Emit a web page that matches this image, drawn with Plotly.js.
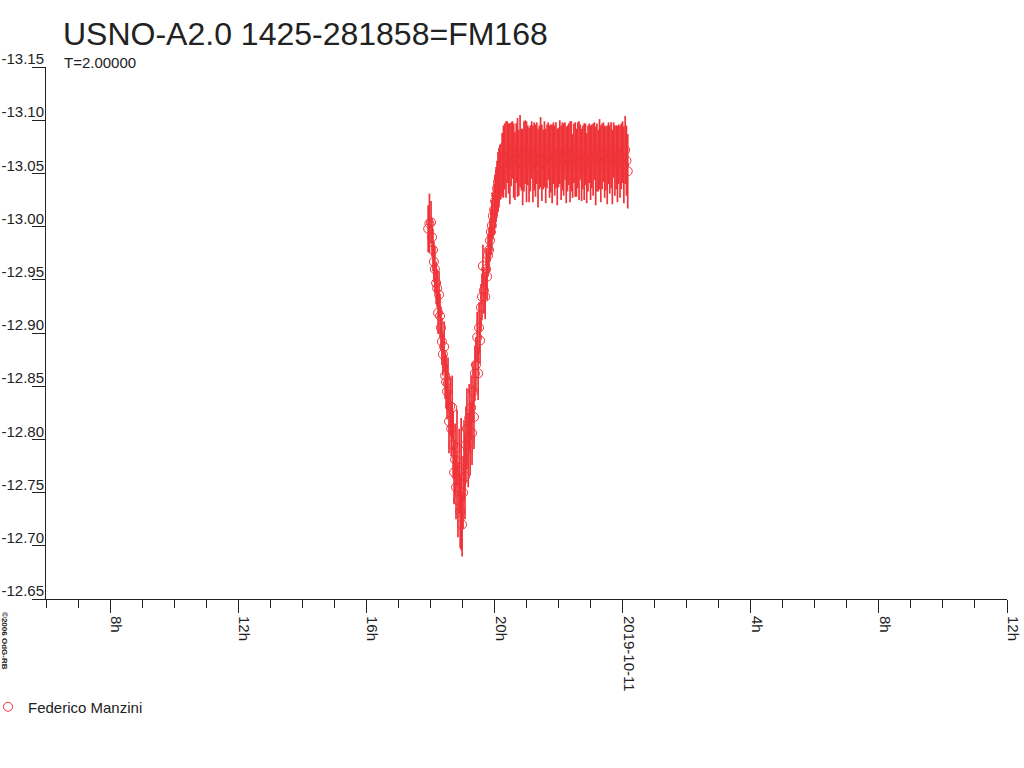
<!DOCTYPE html>
<html>
<head>
<meta charset="utf-8">
<script src="https://cdn.plot.ly/plotly-3.0.1.min.js"></script>
<style>
  html, body { margin: 0; padding: 0; background: #fff; }
  #plot { width: 1024px; height: 768px; }
</style>
</head>
<body>
<div id="plot"></div>
<script>
"use strict";

// hours since 2019-10-10 00:00 (24 = 2019-10-11 0h)
var branchHours = [17.93, 17.97, 18.02, 18.05, 18.08, 18.11, 18.14, 18.18, 18.21, 18.24,
    18.27, 18.30, 18.33, 18.36, 18.39, 18.43, 18.46, 18.49, 18.52, 18.55,
    18.58, 18.62, 18.65, 18.68, 18.71, 18.74, 18.77, 18.80, 18.83, 18.86,
    18.90, 18.93, 18.96, 18.99, 19.02, 19.05, 19.08, 19.11, 19.14, 19.18,
    19.21, 19.24, 19.27, 19.30, 19.33, 19.36, 19.39, 19.42, 19.46, 19.49,
    19.52, 19.55, 19.58, 19.61, 19.64, 19.67, 19.71, 19.74, 19.77, 19.80,
    19.83, 19.86, 19.89, 19.92, 19.95, 19.99, 20.02, 20.05, 20.08, 20.11,
    20.14, 20.17];
var branchMags = [-12.998, -13.003, -13.004, -12.990, -12.978, -12.967, -12.960, -12.947, -12.942, -12.919,
    -12.936, -12.916, -12.905, -12.892, -12.880, -12.887, -12.860, -12.854, -12.845, -12.853,
    -12.817, -12.831, -12.810, -12.830, -12.795, -12.769, -12.781, -12.755, -12.792, -12.743,
    -12.770, -12.732, -12.758, -12.720, -12.750, -12.780, -12.765, -12.795, -12.810, -12.790,
    -12.820, -12.800, -12.830, -12.806, -12.845, -12.821, -12.862, -12.870, -12.896, -12.862,
    -12.905, -12.893, -12.924, -12.934, -12.963, -12.940, -12.934, -12.960, -12.953, -12.973,
    -12.978, -12.987, -12.995, -13.001, -13.010, -13.016, -13.024, -13.030, -13.036, -13.042,
    -13.046, -13.051];
var branchErrs = [0.022, 0.028, 0.020, 0.018, 0.020, 0.019, 0.022, 0.020, 0.018, 0.020,
    0.022, 0.021, 0.020, 0.022, 0.020, 0.024, 0.022, 0.025, 0.026, 0.024,
    0.030, 0.028, 0.026, 0.030, 0.032, 0.030, 0.034, 0.030, 0.036, 0.035,
    0.040, 0.034, 0.062, 0.030, 0.034, 0.038, 0.040, 0.036, 0.038, 0.035,
    0.032, 0.034, 0.030, 0.030, 0.028, 0.030, 0.026, 0.026, 0.024, 0.025,
    0.024, 0.022, 0.022, 0.022, 0.020, 0.022, 0.021, 0.020, 0.022, 0.020,
    0.021, 0.020, 0.022, 0.024, 0.022, 0.024, 0.025, 0.026, 0.026, 0.028,
    0.028, 0.026];

var plateauHours = [20.20, 20.24, 20.28, 20.32, 20.36, 20.40, 20.44, 20.48, 20.52, 20.56,
    20.60, 20.64, 20.68, 20.72, 20.76, 20.80, 20.84, 20.88, 20.92, 20.96,
    21.00, 21.04, 21.08, 21.12, 21.16, 21.20, 21.24, 21.28, 21.32, 21.36,
    21.40, 21.44, 21.48, 21.52, 21.56, 21.60, 21.64, 21.68, 21.72, 21.76,
    21.80, 21.84, 21.88, 21.92, 21.96, 22.00, 22.04, 22.08, 22.12, 22.16,
    22.20, 22.24, 22.28, 22.32, 22.36, 22.40, 22.44, 22.48, 22.52, 22.56,
    22.60, 22.64, 22.68, 22.72, 22.76, 22.80, 22.84, 22.88, 22.92, 22.96,
    23.00, 23.04, 23.08, 23.12, 23.16, 23.20, 23.24, 23.28, 23.32, 23.36,
    23.40, 23.44, 23.48, 23.52, 23.56, 23.60, 23.64, 23.68, 23.72, 23.76,
    23.80, 23.84, 23.88, 23.92, 23.96, 24.00, 24.04, 24.08, 24.12, 24.16];
var plateauMags = [-13.052, -13.058, -13.061, -13.066, -13.063, -13.070, -13.064, -13.059, -13.068, -13.072,
    -13.062, -13.057, -13.069, -13.065, -13.060, -13.071, -13.063, -13.056, -13.066, -13.070,
    -13.061, -13.067, -13.058, -13.064, -13.072, -13.059, -13.066, -13.062, -13.069, -13.055,
    -13.065, -13.070, -13.060, -13.063, -13.068, -13.057, -13.066, -13.071, -13.061, -13.064,
    -13.059, -13.069, -13.062, -13.067, -13.056, -13.065, -13.070, -13.060, -13.066, -13.063,
    -13.071, -13.058, -13.064, -13.068, -13.061, -13.066, -13.057, -13.069, -13.063, -13.060,
    -13.067, -13.062, -13.070, -13.058, -13.065, -13.061, -13.068, -13.055, -13.064, -13.069,
    -13.060, -13.066, -13.063, -13.071, -13.057, -13.065, -13.062, -13.068, -13.059, -13.066,
    -13.070, -13.061, -13.064, -13.058, -13.069, -13.063, -13.067, -13.056, -13.072, -13.062,
    -13.065, -13.059, -13.068, -13.061, -13.066, -13.070, -13.058, -13.072, -13.062, -13.052];
var plateauErrs = [0.026, 0.030, 0.034, 0.031, 0.036, 0.029, 0.033, 0.038, 0.030, 0.027,
    0.035, 0.032, 0.028, 0.037, 0.031, 0.034, 0.029, 0.036, 0.033, 0.030,
    0.038, 0.028, 0.035, 0.031, 0.027, 0.036, 0.032, 0.034, 0.029, 0.037,
    0.030, 0.033, 0.036, 0.028, 0.031, 0.035, 0.030, 0.027, 0.034, 0.032,
    0.037, 0.029, 0.033, 0.031, 0.036, 0.028, 0.030, 0.035, 0.032, 0.034,
    0.027, 0.036, 0.031, 0.029, 0.038, 0.033, 0.030, 0.028, 0.035, 0.032,
    0.031, 0.037, 0.026, 0.034, 0.030, 0.036, 0.029, 0.033, 0.031, 0.028,
    0.035, 0.030, 0.034, 0.027, 0.037, 0.032, 0.029, 0.033, 0.036, 0.031,
    0.028, 0.034, 0.030, 0.037, 0.029, 0.032, 0.031, 0.035, 0.026, 0.033,
    0.030, 0.036, 0.028, 0.034, 0.031, 0.029, 0.036, 0.032, 0.033, 0.035];

var xTickVals = [8, 12, 16, 20, 24, 28, 32, 36];
var xTickText = ["8h", "12h", "16h", "20h", "2019-10-11", "4h", "8h", "12h"];
var yTickVals = [-13.15, -13.10, -13.05, -13.00, -12.95, -12.90, -12.85, -12.80, -12.75, -12.70, -12.65];
var yTickText = ["-13.15", "-13.10", "-13.05", "-13.00", "-12.95", "-12.90", "-12.85", "-12.80", "-12.75", "-12.70", "-12.65"];

var observer = "Federico Manzini";
var red = "#ef3339";
var ink = "#222222";
var font = "Liberation Sans, Arial, sans-serif";

var hours = branchHours.concat(plateauHours);
var mags = branchMags.concat(plateauMags);
var errs = branchErrs.concat(plateauErrs);

// circles first, error bars on top so dense runs hide the rings
var points = {
    x: hours,
    y: mags,
    mode: "markers",
    type: "scatter",
    name: observer,
    marker: {symbol: "circle-open", size: 9, color: red, line: {width: 1, color: red}},
    hoverinfo: "x+y"
};
var bars = {
    x: hours,
    y: mags,
    mode: "markers",
    type: "scatter",
    showlegend: false,
    marker: {size: 1, opacity: 0, color: red},
    error_y: {type: "data", array: errs, visible: true, color: red, thickness: 1.7, width: 0},
    hoverinfo: "skip"
};

var layout = {
    width: 1024,
    height: 768,
    paper_bgcolor: "#ffffff",
    plot_bgcolor: "#ffffff",
    font: {family: font, color: ink, size: 15},
    margin: {l: 46, r: 17, t: 67, b: 169, pad: 0},
    title: {
        text: "USNO-A2.0 1425-281858=FM168",
        font: {family: font, size: 32, color: ink},
        xref: "container", yref: "container",
        x: 63 / 1024, xanchor: "left",
        y: 1 - 34 / 768, yanchor: "middle"
    },
    xaxis: {
        range: [6, 36],
        tickmode: "array",
        tickvals: xTickVals,
        ticktext: xTickText,
        tickangle: 90,
        ticks: "outside",
        ticklen: 13,
        tickwidth: 1,
        tickcolor: ink,
        ticklabelshift: 6,
        tickfont: {family: font, size: 15, color: ink},
        minor: {tickmode: "linear", tick0: 0, dtick: 1, ticks: "outside", ticklen: 8, tickwidth: 1, tickcolor: ink, showgrid: false},
        showline: true, linecolor: ink, linewidth: 1,
        showgrid: false, zeroline: false, fixedrange: true
    },
    yaxis: {
        range: [-12.65, -13.15],
        tickmode: "array",
        tickvals: yTickVals,
        ticktext: yTickText,
        ticks: "outside",
        ticklen: 13,
        tickwidth: 1,
        tickcolor: ink,
        ticklabelstandoff: -15,
        ticklabelshift: 8,
        tickfont: {family: font, size: 15, color: ink},
        showline: true, linecolor: ink, linewidth: 1,
        showgrid: false, zeroline: false, fixedrange: true
    },
    showlegend: true,
    legend: {
        xref: "paper", yref: "container",
        x: (-13 - 46) / 961, xanchor: "left",
        y: 1 - 707 / 768, yanchor: "middle",
        orientation: "h",
        indentation: -12,
        bgcolor: "rgba(0,0,0,0)",
        font: {family: font, size: 15, color: ink}
    },
    annotations: [
        {
            text: "T=2.00000",
            xref: "paper", yref: "paper",
            x: (62 - 46) / 961, xanchor: "left",
            y: 1 + (67 - 63) / 532, yanchor: "middle",
            showarrow: false,
            font: {family: font, size: 15, color: ink}
        },
        {
            text: "<b>©2006 OdG-RB</b>",
            xref: "paper", yref: "paper",
            x: (5 - 46) / 961, xanchor: "center",
            y: -(641 - 599) / 532, yanchor: "middle",
            textangle: 90,
            showarrow: false,
            font: {family: font, size: 8, color: ink}
        }
    ]
};

Plotly.newPlot("plot", [points, bars], layout, {displayModeBar: false, staticPlot: true});
</script>
</body>
</html>
